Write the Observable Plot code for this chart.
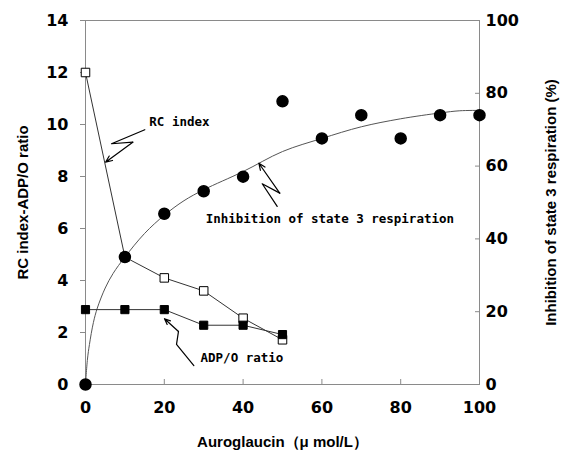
<!DOCTYPE html>
<html><head><meta charset="utf-8">
<script src="https://cdn.jsdelivr.net/npm/d3@7"></script>
<script src="https://cdn.jsdelivr.net/npm/@observablehq/plot@0.6"></script>
<style>
html,body{margin:0;padding:0;background:#fff;}
#chart svg{font-family:"DejaVu Sans",sans-serif;font-weight:bold;font-size:16px;}
#chart g[aria-label="y-axis label"], #chart g[aria-label="x-axis label"]{font-family:"Liberation Sans",Arial,sans-serif;font-size:15px;font-weight:bold;}
</style></head><body><div id="chart"></div>
<script>
// Experimental points
const conc = [0, 10, 20, 30, 40, 50];
const rcIndex = [12.0, 4.9, 4.1, 3.6, 2.55, 1.72];
const adpO = [2.88, 2.88, 2.88, 2.28, 2.28, 1.92];
const inhConc = [0, 10, 20, 30, 40, 50, 60, 70, 80, 90, 100];
const inhibition = [0, 35.0, 46.9, 53.1, 57.1, 77.8, 67.6, 74.0, 67.6, 74.0, 74.0];
// fitted curve
const curveConc = [0, 0.5, 1, 2, 3, 5, 7, 10, 15, 20, 25, 30, 40, 50, 60, 70, 80, 90, 95, 100];
const curveInh = [0, 7, 11, 17, 21, 26.5, 30.5, 35, 41.5, 46.5, 50.5, 53.5, 58.5, 64, 67.6, 70.8, 73.0, 74.6, 75.2, 75.3];
// axes
const leftTicks = [0, 2, 4, 6, 8, 10, 12, 14];
const rightTicks = [0, 20, 40, 60, 80, 100];
const xTicks = [0, 20, 40, 60, 80, 100];
const leftMax = 14, rightMax = 100;
const k = leftMax / rightMax;
// annotations (data coordinates)
const labels = [
  {x: 16.2, y: 10.1, text: "RC index"},
  {x: 30.5, y: 6.38, text: "Inhibition of state 3 respiration"},
  {x: 29.2, y: 1.01, text: "ADP/O ratio"}
];
const arrowRC = [[15.05, 9.80], [6.6, 9.26], [12.0, 9.32], [5.08, 8.55]];
const arrowInh = [[48.65, 6.85], [44.85, 7.72], [49.3, 7.36], [44.0, 8.51]];
const arrowADP = [[27.5, 0.73], [23.1, 1.54], [23.6, 2.04], [20.05, 2.53]];

const pts = conc.map((c, i) => ({c, rc: rcIndex[i], adp: adpO[i]}));
const inh = inhConc.map((c, i) => ({c, v: inhibition[i] * k}));
const curve = curveConc.map((c, i) => ({c, v: curveInh[i] * k}));
const arrows = [arrowRC, arrowInh, arrowADP].map(a => a.map(([x, y]) => ({x, y})));
const heads = arrows.map(a => ({x1: a[a.length - 2].x, y1: a[a.length - 2].y, x2: a[a.length - 1].x, y2: a[a.length - 1].y}));

const lineColor = "#333";
const chart = Plot.plot({
  width: 561, height: 454,
  marginLeft: 85, marginRight: 82, marginTop: 20, marginBottom: 70,
  x: {domain: [0, 100]},
  y: {domain: [0, leftMax]},
  marks: [
    Plot.frame({stroke: "#8a8a8a"}),
    Plot.axisY({anchor: "left", ticks: leftTicks, tickSize: 5, tickPadding: 12, stroke: "#8a8a8a",
      label: "RC index-ADP/O ratio", labelAnchor: "center", labelOffset: 68, labelArrow: "none"}),
    Plot.axisY({anchor: "right", ticks: rightTicks.map(v => v * k), tickFormat: v => Math.round(v / k),
      tickSize: -5, tickPadding: 11, stroke: "#8a8a8a", textAnchor: "start",
      label: "Inhibition of state 3 respiration (%)", labelAnchor: "center", labelOffset: 76, labelArrow: "none"}),
    Plot.axisX({anchor: "bottom", ticks: xTicks, tickSize: -5, tickPadding: 22, stroke: "#8a8a8a",
      label: "Auroglaucin（μ mol/L）", labelAnchor: "center", labelOffset: 62, labelArrow: "none"}),
    Plot.line(curve, {x: "c", y: "v", curve: "catmull-rom", stroke: "#555", strokeWidth: 1}),
    Plot.line(pts, {x: "c", y: "rc", stroke: lineColor, strokeWidth: 1}),
    Plot.line(pts, {x: "c", y: "adp", stroke: lineColor, strokeWidth: 1}),
    Plot.dot(pts, {x: "c", y: "rc", symbol: "square", r: 4.8, fill: "white", stroke: "black", strokeWidth: 1}),
    Plot.dot(pts, {x: "c", y: "adp", symbol: "square", r: 4.6, fill: "black", stroke: "black", strokeWidth: 1}),
    Plot.dot(inh, {x: "c", y: "v", r: 5.5, fill: "black", stroke: "black"}),
    ...arrows.map(a => Plot.line(a.slice(0, -1), {x: "x", y: "y", stroke: "black", strokeWidth: 1.2})),
    Plot.arrow(heads, {x1: "x1", y1: "y1", x2: "x2", y2: "y2", stroke: "black", strokeWidth: 1.2, headLength: 9, headAngle: 45}),
    Plot.text(labels, {x: "x", y: "y", text: "text", textAnchor: "start", fontFamily: "DejaVu Sans Mono",
      fontWeight: "bold", fontSize: 12.5, fill: "black"})
  ]
});
document.getElementById("chart").append(chart);
</script>
</body></html>
